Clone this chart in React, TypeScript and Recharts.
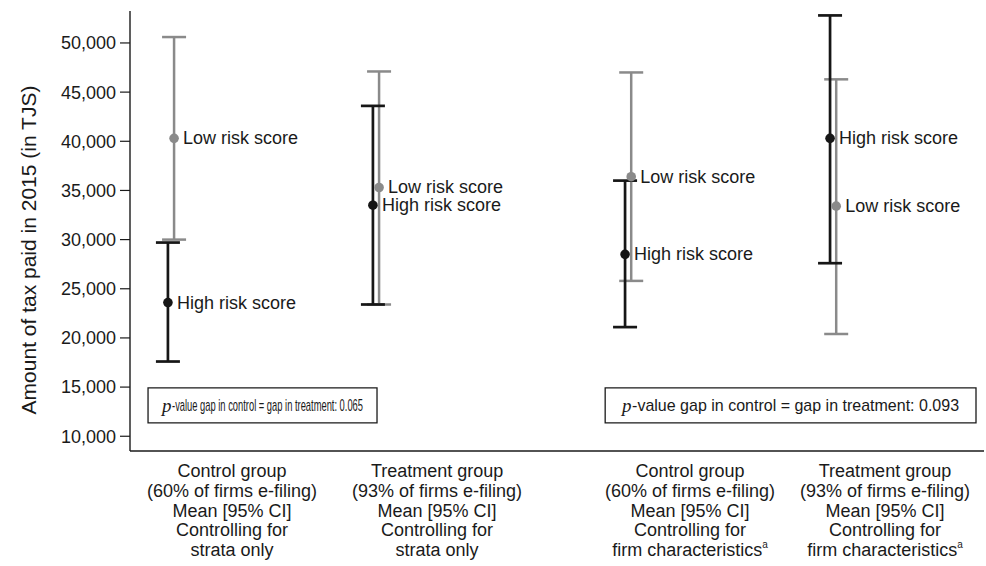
import React from 'react';
import { ScatterChart, Scatter, XAxis, YAxis, ErrorBar, ReferenceArea } from 'recharts';

// ---------- data ----------
const groupPositions = [1, 2, 3.23, 4.23];
const tickPositions = [1.298, 2.298, 3.532, 4.483];
const categoryLines = [
  ['Control group', '(60% of firms e-filing)', 'Mean [95% CI]', 'Controlling for', 'strata only'],
  ['Treatment group', '(93% of firms e-filing)', 'Mean [95% CI]', 'Controlling for', 'strata only'],
  ['Control group', '(60% of firms e-filing)', 'Mean [95% CI]', 'Controlling for', 'firm characteristics'],
  ['Treatment group', '(93% of firms e-filing)', 'Mean [95% CI]', 'Controlling for', 'firm characteristics'],
];
const footnoteMarks = ['', '', 'a', 'a'];

const highMean = [23600, 33500, 28500, 40300];
const highLower = [17600, 23400, 21100, 27600];
const highUpper = [29700, 43600, 36000, 52800];

const lowMean = [40300, 35300, 36400, 33400];
const lowLower = [30000, 23400, 25800, 20400];
const lowUpper = [50600, 47100, 47000, 46300];

const seriesNames = ['High risk score', 'Low risk score'];
const yTicks = [10000, 15000, 20000, 25000, 30000, 35000, 40000, 45000, 50000];
const yAxisTitle = 'Amount of tax paid in 2015 (in TJS)';
const pValues = ['0.065', '0.093'];
const boxGroups = [[0, 1], [2, 3]];

// ---------- styles ----------
const FONT = '"Liberation Sans", Arial, Helvetica, sans-serif';
const SERIF = '"Liberation Serif", "Times New Roman", serif';
const INK = '#1a1a1a';
const BLACK = '#161616';
const GREY = '#8a8a8a';
const pairSpread = 0.015;

const buildRows = (mean: number[], lo: number[], hi: number[], name: string, dir: number) =>
  mean.map((m, i) => ({
    x: groupPositions[i] + dir * pairSpread,
    y: m,
    err: [m - lo[i], hi[i] - m],
    name,
  }));

const highRows = buildRows(highMean, highLower, highUpper, seriesNames[0], -1);
const lowRows = buildRows(lowMean, lowLower, lowUpper, seriesNames[1], 1);

const makeShape = (color: string) => (props: any) => {
  const { cx, cy, payload } = props;
  return (
    <g>
      <circle cx={cx} cy={cy} r={4.8} fill={color} />
      <text
        x={cx + 9}
        y={cy}
        dominantBaseline="central"
        fontSize={18}
        fontFamily={FONT}
        fill={INK}
      >
        {payload.name}
      </text>
    </g>
  );
};

const CategoryTick = (props: any) => {
  const { x, y, payload } = props;
  const i = tickPositions.indexOf(payload.value);
  const lines = categoryLines[i] || [];
  return (
    <text x={x} y={y} textAnchor="middle" fontSize={18} fontFamily={FONT} fill={INK}>
      {lines.map((l, k) => (
        <tspan key={k} x={x} dy={k === 0 ? 26 : 19.8}>
          {l}
          {k === lines.length - 1 && footnoteMarks[i] ? (
            <tspan fontSize={10} dy={-8}>{footnoteMarks[i]}</tspan>
          ) : null}
        </tspan>
      ))}
    </text>
  );
};

// total text width inside each box (box 1 text is condensed in the original)
const boxTextLengths = [201, 337];

const makeBoxLabel = (idx: number) => (props: any) => {
  const vb = props.viewBox || {};
  const cx = vb.x + vb.width / 2;
  const cy = vb.y + vb.height / 2;
  const total = boxTextLengths[idx];
  const pW = 10;
  const left = cx - total / 2;
  return (
    <g>
      <text
        x={left}
        y={cy}
        dominantBaseline="central"
        fontSize={19}
        fontFamily={SERIF}
        fontStyle="italic"
        fill={INK}
      >
        p
      </text>
      <text
        x={left + pW}
        y={cy}
        dominantBaseline="central"
        fontSize={17}
        fontFamily={FONT}
        fill={INK}
        textLength={total - pW}
        lengthAdjust="spacingAndGlyphs"
      >
        {'-value gap in control = gap in treatment: ' + pValues[idx]}
      </text>
    </g>
  );
};

const YTitle = (props: any) => {
  const vb = props.viewBox || {};
  const cx = 28;
  const cy = vb.y + vb.height / 2 + 19;
  return (
    <text
      x={cx}
      y={cy}
      transform={`rotate(-90, ${cx}, ${cy})`}
      textAnchor="middle"
      dominantBaseline="central"
      fontSize={21}
      fontFamily={FONT}
      fill={INK}
    >
      {yAxisTitle}
    </text>
  );
};

export default function App() {
  return (
    <div style={{ position: 'absolute', left: 0, top: 0, width: 986, height: 566, background: '#fff' }}>
      <ScatterChart
        width={986}
        height={566}
        margin={{ top: 11, right: 2, bottom: 0, left: 0 }}
        style={{ fontFamily: FONT }}
      >
        <XAxis
          type="number"
          dataKey="x"
          domain={[0.8, 4.966]}
          ticks={tickPositions}
          interval={0}
          tickLine={false}
          tickSize={0}
          tickMargin={0}
          height={115}
          axisLine={{ stroke: INK, strokeWidth: 1.4 }}
          tick={<CategoryTick />}
          allowDataOverflow
        />
        <YAxis
          type="number"
          dataKey="y"
          domain={[8500, 53250]}
          ticks={yTicks}
          interval={0}
          width={130}
          tickSize={10}
          tickMargin={4}
          allowDataOverflow
          axisLine={{ stroke: INK, strokeWidth: 1.4 }}
          tickLine={{ stroke: INK, strokeWidth: 1.2 }}
          tick={{ fontSize: 18, fill: INK, fontFamily: FONT }}
          tickFormatter={(v: number) => v.toLocaleString('en-US')}
          label={{ content: <YTitle /> }}
        />
        {boxGroups.map((g, idx) => (
          <ReferenceArea
            key={idx}
            x1={groupPositions[g[0]] - 0.112}
            x2={groupPositions[g[1]] + (idx === 0 ? 0.005 : 0.697)}
            y1={11370}
            y2={14930}
            fill="#fff"
            fillOpacity={1}
            stroke={INK}
            strokeWidth={1.3}
            label={{ content: makeBoxLabel(idx) }}
          />
        ))}
        <Scatter
          name={seriesNames[1]}
          data={lowRows}
          fill={GREY}
          shape={makeShape(GREY)}
          isAnimationActive={false}
        >
          <ErrorBar dataKey="err" direction="y" width={12} stroke={GREY} strokeWidth={2.5} isAnimationActive={false} />
        </Scatter>
        <Scatter
          name={seriesNames[0]}
          data={highRows}
          fill={BLACK}
          shape={makeShape(BLACK)}
          isAnimationActive={false}
        >
          <ErrorBar dataKey="err" direction="y" width={12} stroke={BLACK} strokeWidth={2.7} isAnimationActive={false} />
        </Scatter>
      </ScatterChart>
    </div>
  );
}
